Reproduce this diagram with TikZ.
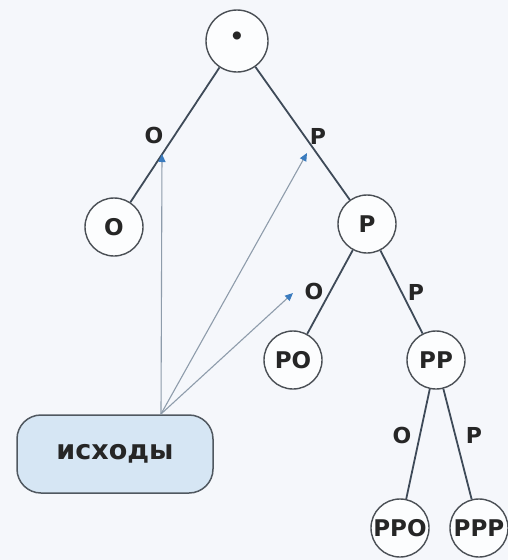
\documentclass[tikz,border=0pt]{standalone}
\usepackage{fontspec}
\setmainfont{DejaVu Sans}
\usetikzlibrary{arrows.meta}
\definecolor{bgcol}{HTML}{F5F7FB}
\definecolor{edgecol}{HTML}{3E4A58}
\definecolor{circcol}{HTML}{4A4F55}
\definecolor{arrline}{HTML}{8E9CAB}
\definecolor{arrtip}{HTML}{3A7BBE}
\definecolor{boxfill}{HTML}{D6E6F4}
\definecolor{boxdraw}{HTML}{505860}
\tikzset{
  tnode/.style={circle, draw=circcol, line width=1.4pt, fill=white!70!bgcol,
    minimum size=58pt, inner sep=0pt, font=\fontsize{23}{26}\selectfont\bfseries, text=black!85},
  tedge/.style={draw=edgecol, line width=1.8pt},
  elabel/.style={font=\fontsize{22}{24}\selectfont\bfseries, text=black!85, inner sep=0pt},
  pointer/.style={draw=arrline, line width=1.1pt,
    -{Triangle[length=8pt,width=7pt,color=arrtip]}},
  outbox/.style={draw=boxdraw, line width=1.5pt, fill=boxfill, rounded corners=24pt,
    minimum width=196pt, minimum height=78pt, font=\fontsize{27}{30}\selectfont\bfseries, text=black!85}
}
\begin{document}
\begin{tikzpicture}[x=1pt,y=-1pt]
\fill[bgcol] (0,0) rectangle (508,560);
\useasboundingbox (0,0) rectangle (508,560);
% nodes
\node[tnode, minimum size=62pt] (root) at (237,41) {\raisebox{6pt}{•}};
\node[tnode] (O) at (114,227) {О};
\node[tnode] (P) at (367,224) {Р};
\node[tnode] (PO) at (293,360) {РО};
\node[tnode] (PP) at (436,360) {РР};
\node[tnode] (PPO) at (400,528) {РРО};
\node[tnode] (PPP) at (479,528) {РРР};
\node[outbox] (out) at (115,454) {исходы};
% edges
\draw[tedge] (root) -- (O);
\draw[tedge] (root) -- (P);
\draw[tedge] (P) -- (PO);
\draw[tedge] (P) -- (PP);
\draw[tedge] (PP) -- (PPO);
\draw[tedge] (PP) -- (PPP);
% edge labels
\node[elabel] (l1) at (154,135) {О};
\node[elabel] (l2) at (318,136) {Р};
\node[elabel] (l3) at (314,291) {О};
\node[elabel] (l4) at (416,292) {Р};
\node[elabel] (l5) at (402,435) {О};
\node[elabel] (l6) at (474,435) {Р};
% pointers
\coordinate (src) at (161,414);
\coordinate (t1) at (162,154);
\coordinate (t2) at (307,153);
\coordinate (t3) at (293,293);
\draw[pointer] (src) -- (t1);
\draw[pointer] (src) -- (t2);
\draw[pointer] (src) -- (t3);
\end{tikzpicture}
\end{document}
